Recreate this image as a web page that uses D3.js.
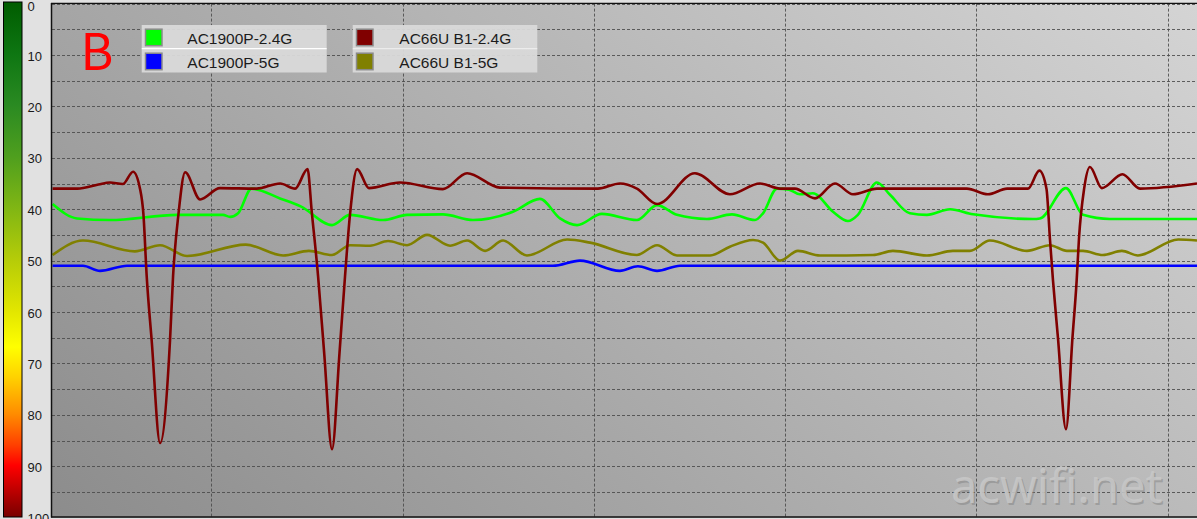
<!DOCTYPE html>
<html><head><meta charset="utf-8">
<script src="https://cdn.jsdelivr.net/npm/d3@7"></script>
<style>html,body{margin:0;padding:0;background:#e1e1e1;overflow:hidden}</style>
</head><body><svg id="c" width="1197" height="519"></svg>
<script>
// ---- data ----
const seriesNames = ["AC1900P-2.4G", "AC1900P-5G", "AC66U B1-2.4G", "AC66U B1-5G"];
const seriesColors = ["#00ff00", "#0000ff", "#800000", "#808000"];
const yTickValues = [0, 10, 20, 30, 40, 50, 60, 70, 80, 90, 100];
const yGridValues = [0, 5, 10, 15, 20, 25, 30, 35, 40, 45, 50, 55, 60, 65, 70, 75, 80, 85, 90, 95, 100];
const xGridValues = [100, 200, 300, 400, 500, 600];
const xDomain = [16.7, 615.3];
const panelLabel = "B";
const watermark = "acwifi.net";

const ac1900p24 = [[17,39],[29.8,41.8],[47,42.1],[82.1,41.1],[106.1,41.1],[109.8,41.5],[114,40.8],[121,36],[135.9,37.9],[147,39.5],[163.1,43.1],[172.5,41.1],[189.8,42.1],[202.3,41.1],[221.1,41],[236.8,42.1],[257.7,40.5],[271.8,38],[282.3,41.8],[291.2,43.1],[304.2,40.9],[322.5,42.1],[333,39.2],[343.4,41.1],[359.1,41.9],[372.2,41],[384.2,42.1],[388.4,40.8],[395.7,36],[402,36.2],[407.7,37.1],[414.5,36.9],[425,40.5],[432.8,42.3],[438,41.1],[448,34.8],[454.8,37.2],[465.2,40.8],[474.1,41.1],[486.2,40],[498.2,41],[529.5,41.9],[533.2,41.8],[546.8,35.9],[555.7,41.1],[569.8,41.9],[615.3,41.9]];
const ac1900p5 = [[17,51],[32.9,51],[41.8,52],[55.9,51],[278.6,51],[292.7,50],[313.6,52],[323,51.1],[333,52],[345,51],[615.3,51]];
const ac66u24 = [[17,36],[30,36],[41,35.2],[47,34.8],[53.7,35.1],[59.1,32.7],[62.7,36],[64.5,41],[66.2,53],[68.8,65.5],[73.2,85.5],[78.4,65.5],[80,53],[82.8,41],[86.3,32.8],[94.1,38.1],[104.5,35.9],[123.7,36],[135.9,35],[143.8,36],[150.3,32.2],[152.5,40.5],[155.8,53],[159,68],[163.1,86.7],[167,68],[169.9,53],[172.5,41],[176.2,32.2],[182.4,35.9],[198.6,34.8],[221.1,36.1],[233.7,33],[250.9,35.8],[302.1,36],[313.6,35],[322.5,36],[333,39],[352.8,33],[371.1,37.1],[386.8,35],[397.3,36],[405.1,36],[415.6,37.9],[426,35],[435.4,37.1],[448,36],[495,36],[506,37.1],[516,36],[526.9,36],[532.9,32.5],[536.6,36],[538.4,45.7],[540,53.8],[542.6,65],[546.8,82.8],[550.2,65],[552.4,53.8],[553.6,45.7],[556.3,36],[559.3,31.8],[565.6,35.9],[576.3,33.2],[585.5,36],[615.3,35]];
const ac66u5 = [[17,48.9],[32.9,46.1],[60,48.2],[73.2,47],[87.3,49.1],[118,46.9],[137.5,49],[151,48.1],[163.1,48.9],[172.5,47],[183,47.1],[192.4,46.2],[202.3,47],[212.8,45],[224.8,47.1],[233.7,46.1],[243.1,48.1],[252.5,46.1],[265,49],[286,45.9],[298,46.5],[322.5,48.9],[333,47],[343.4,49],[360.7,49],[371.1,47.3],[383.2,46],[388.4,46.5],[397.3,50],[406.7,48.1],[418.2,49],[445.9,48.9],[456.3,48.1],[474.1,49],[487.7,48.1],[496.6,48.1],[507,46.1],[526.4,48.1],[538.4,47],[547.3,48.1],[555.7,48.1],[566.1,48.9],[576,48.1],[584.4,49],[605.5,45.9],[615.3,46.1]];
const seriesData = [ac1900p24, ac1900p5, ac66u24, ac66u5];
const drawOrder = [0, 1, 3, 2];

// ---- layout ----
const W = 1197, H = 519;
const plot = {left: 52, top: 3.6, right: 1197, bottom: 517.6};
const svg = d3.select("#c");
const defs = svg.append("defs");

svg.append("rect").attr("width", W).attr("height", H).attr("fill", "#e1e1e1");

// background gradient
const bg = defs.append("linearGradient").attr("id", "bg")
  .attr("x1", 0).attr("y1", 1).attr("x2", 1.19).attr("y2", 0.36);
bg.append("stop").attr("offset", 0).attr("stop-color", "#8c8c8c");
bg.append("stop").attr("offset", 1).attr("stop-color", "#d4d4d4");

// colorbar gradient
const cb = defs.append("linearGradient").attr("id", "cb")
  .attr("x1", 0).attr("y1", 0).attr("x2", 0).attr("y2", 1);
[[0,"#005c00"],[0.1,"#0e7612"],[0.2,"#2a8a22"],[0.3,"#4f9f1e"],[0.4,"#80b614"],[0.5,"#b5cc08"],[0.6,"#e2e600"],[0.67,"#ffff00"],[0.73,"#ffd000"],[0.8,"#ff8c00"],[0.86,"#ff4000"],[0.9,"#ff0000"],[1,"#780000"]]
  .forEach(s => cb.append("stop").attr("offset", s[0]).attr("stop-color", s[1]));

const x = d3.scaleLinear().domain(xDomain).range([plot.left, plot.right]);
const y = d3.scaleLinear().domain([0, 100]).range([plot.top, plot.bottom]);

// colorbar
svg.append("rect").attr("x", 3.5).attr("y", 2).attr("width", 18.5).attr("height", 515)
  .attr("fill", "url(#cb)").attr("stroke", "#000").attr("stroke-width", 1);

// tick labels
const yAxis = d3.axisRight(y).tickValues(yTickValues).tickSize(0).tickPadding(0).tickFormat(d3.format("d"));
const ya = svg.append("g").attr("transform", "translate(27.5,1)").call(yAxis);
ya.select(".domain").remove();
ya.selectAll("text").attr("font-family", "Liberation Sans, Arial, sans-serif").attr("font-size", 13).attr("fill", "#1a1a1a");
ya.selectAll(".tick").filter(d => d === 0).attr("transform", `translate(0,${y(0) + 1.8})`);

// plot background
svg.append("rect").attr("x", plot.left).attr("y", plot.top).attr("width", plot.right - plot.left)
  .attr("height", plot.bottom - plot.top).attr("fill", "url(#bg)");

const clip = defs.append("clipPath").attr("id", "pc");
clip.append("rect").attr("x", plot.left).attr("y", plot.top).attr("width", plot.right - plot.left).attr("height", plot.bottom - plot.top);

// grid
const grid = svg.append("g").attr("clip-path", "url(#pc)");
grid.selectAll("line.h").data(yGridValues).join("line").attr("class", "h")
  .attr("x1", plot.left).attr("x2", plot.right)
  .attr("y1", d => Math.round(y(d)) + 0.5).attr("y2", d => Math.round(y(d)) + 0.5)
  .attr("stroke", "#4a4a4a").attr("stroke-width", 1).attr("stroke-dasharray", "3,2").attr("opacity", 0.85);
grid.selectAll("line.v").data(xGridValues).join("line").attr("class", "v")
  .attr("y1", plot.top).attr("y2", plot.bottom)
  .attr("x1", d => Math.round(x(d)) + 0.5).attr("x2", d => Math.round(x(d)) + 0.5)
  .attr("stroke", "#4a4a4a").attr("stroke-width", 1).attr("stroke-dasharray", "3,2").attr("opacity", 0.85);

// watermark
svg.append("text").attr("x", 952.5).attr("y", 504.5).text(watermark)
  .attr("font-family", "Noto Sans, sans-serif").attr("font-size", 47).attr("fill", "#7e7e7e").attr("opacity", 0.45);
svg.append("text").attr("x", 951).attr("y", 503).text(watermark)
  .attr("font-family", "Noto Sans, sans-serif").attr("font-size", 47).attr("fill", "#c8c8c8").attr("opacity", 0.85);

// lines
const line = d3.line().x(d => x(d[0])).y(d => y(d[1])).curve(d3.curveMonotoneX);
const lines = svg.append("g").attr("clip-path", "url(#pc)");
drawOrder.forEach(i => {
  lines.append("path").datum(seriesData[i]).attr("d", line)
    .attr("fill", "none").attr("stroke", seriesColors[i]).attr("stroke-width", 2.6)
    .attr("stroke-linejoin", "round");
});

// border
svg.append("line").attr("x1", plot.left - 0.5).attr("x2", plot.left - 0.5).attr("y1", plot.top - 0.5).attr("y2", plot.bottom).attr("stroke", "#111").attr("stroke-width", 1.5);
svg.append("line").attr("x1", plot.left - 1).attr("x2", W).attr("y1", plot.top - 0.3).attr("y2", plot.top - 0.3).attr("stroke", "#111").attr("stroke-width", 1.3);
svg.append("line").attr("x1", plot.left - 1).attr("x2", W).attr("y1", plot.bottom - 0.6).attr("y2", plot.bottom - 0.6).attr("stroke", "#111").attr("stroke-width", 1.5);

// panel label
svg.append("text").attr("x", 80.5).attr("y", 70).text(panelLabel)
  .attr("font-family", "Noto Sans CJK SC, sans-serif").attr("font-size", 50).attr("fill", "#ff0000");

// legend
const legendBoxes = [{x: 141.7, w: 185}, {x: 352.7, w: 184.6}];
const rowY = [25, 49];
seriesNames.forEach((name, i) => {
  const b = legendBoxes[Math.floor(i / 2)], r = i % 2;
  const g = svg.append("g");
  g.append("rect").attr("x", b.x).attr("y", rowY[r]).attr("width", b.w).attr("height", 23.5)
    .attr("fill", "#d9d9d9").attr("opacity", 0.95);
  g.append("rect").attr("x", b.x + 3.8).attr("y", rowY[r] + 4.2).attr("width", 16.5).attr("height", 16.5)
    .attr("fill", seriesColors[i]).attr("stroke", "#8a8a8a").attr("stroke-width", 1.5);
  g.append("text").attr("x", b.x + (i < 2 ? 45.6 : 46.6)).attr("y", rowY[r] + 19)
    .text(name).attr("font-family", "Liberation Sans, Arial, sans-serif").attr("font-size", 15.5).attr("fill", "#1c1c1c");
});
legendBoxes.forEach((b, k) => {
  svg.append("line").attr("x1", b.x).attr("x2", b.x + b.w).attr("y1", 48.6).attr("y2", 48.6)
    .attr("stroke", k === 0 ? "#ffffff" : "#ececec").attr("stroke-width", 1.4);
});
</script>
</body></html>
